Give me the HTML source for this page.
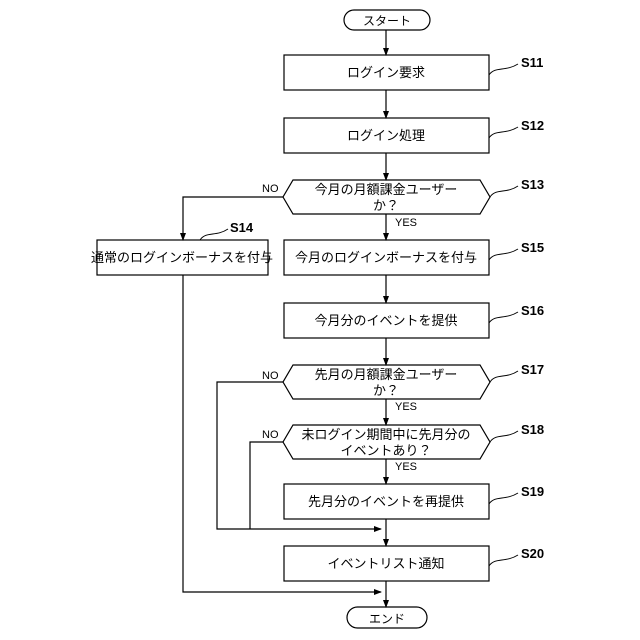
<!DOCTYPE html>
<html><head><meta charset="utf-8"><style>
html,body{margin:0;padding:0;background:#fff}
svg{display:block}
text{font-family:"Liberation Sans","Noto Sans CJK JP",sans-serif;fill:#000}
</style></head><body>
<svg width="640" height="640" viewBox="0 0 640 640" xmlns="http://www.w3.org/2000/svg">
<defs><marker id="a" markerWidth="8" markerHeight="8" refX="7" refY="4" orient="auto" markerUnits="userSpaceOnUse"><path d="M0,1 L8,4 L0,7 Z" fill="#000"/></marker></defs>
<g stroke="#000" stroke-width="1.2" fill="none">
<rect x="344" y="10" width="86" height="20" rx="10"/>
<rect x="347" y="607" width="80" height="21" rx="10.5"/>
<rect x="284" y="55" width="205" height="35"/>
<rect x="284" y="118" width="205" height="35"/>
<path d="M293,180 H480 L490,197 L480,214 H293 L283,197 Z"/>
<rect x="97" y="240" width="171" height="35"/>
<rect x="284" y="240" width="205" height="35"/>
<rect x="284" y="303" width="205" height="35"/>
<path d="M293,365 H480 L490,382 L480,399 H293 L283,382 Z"/>
<path d="M293,425 H480 L490,442 L480,459 H293 L283,442 Z"/>
<rect x="284" y="484" width="205" height="35"/>
<rect x="284" y="546" width="205" height="35"/>
<g marker-end="url(#a)">
<line x1="386" y1="30" x2="386" y2="55"/>
<line x1="386" y1="90" x2="386" y2="118"/>
<line x1="386" y1="153" x2="386" y2="180"/>
<line x1="386" y1="214" x2="386" y2="240"/>
<line x1="386" y1="275" x2="386" y2="303"/>
<line x1="386" y1="338" x2="386" y2="365"/>
<line x1="386" y1="399" x2="386" y2="425"/>
<line x1="386" y1="459" x2="386" y2="484"/>
<line x1="386" y1="519" x2="386" y2="546"/>
<line x1="386" y1="581" x2="386" y2="607"/>
<polyline points="283,197 183,197 183,240"/>
<polyline points="250,529 381,529"/>
<polyline points="183,275 183,592 381,592"/>
</g>
<polyline points="283,382 217,382 217,529 250,529"/>
<polyline points="283,442 250,442 250,529"/>
<g stroke-width="1">
<path d="M489,75 C495,66 505,72 518,64"/>
<path d="M489,138 C495,129 505,135 518,127"/>
<path d="M490,197 C496,188 506,194 518,186"/>
<path d="M200,240 C206,231 216,237 228,229"/>
<path d="M489,260 C495,251 505,257 518,249"/>
<path d="M489,323 C495,314 505,320 518,312"/>
<path d="M490,382 C496,373 506,379 518,371"/>
<path d="M490,442 C496,433 506,439 518,431"/>
<path d="M489,504 C495,495 505,501 518,493"/>
<path d="M489,566 C495,557 505,563 518,555"/>
</g>
</g>
<g font-size="13" text-anchor="middle">
<text x="387" y="25" font-size="12">スタート</text>
<text x="387" y="623" font-size="12">エンド</text>
<text x="386" y="77">ログイン要求</text>
<text x="386" y="140">ログイン処理</text>
<text x="386" y="194">今月の月額課金ユーザー</text>
<text x="386" y="210">か？</text>
<text x="182" y="262">通常のログインボーナスを付与</text>
<text x="386" y="262">今月のログインボーナスを付与</text>
<text x="386" y="325">今月分のイベントを提供</text>
<text x="386" y="379">先月の月額課金ユーザー</text>
<text x="386" y="395">か？</text>
<text x="386" y="439">未ログイン期間中に先月分の</text>
<text x="386" y="455">イベントあり？</text>
<text x="386" y="506">先月分のイベントを再提供</text>
<text x="386" y="568">イベントリスト通知</text>
</g>
<g font-size="11">
<text x="262" y="192">NO</text>
<text x="395" y="226">YES</text>
<text x="262" y="379">NO</text>
<text x="395" y="410">YES</text>
<text x="262" y="438">NO</text>
<text x="395" y="470">YES</text>
</g>
<g font-size="13" font-weight="bold">
<text x="521" y="67">S11</text>
<text x="521" y="130">S12</text>
<text x="521" y="189">S13</text>
<text x="230" y="232">S14</text>
<text x="521" y="252">S15</text>
<text x="521" y="315">S16</text>
<text x="521" y="374">S17</text>
<text x="521" y="434">S18</text>
<text x="521" y="496">S19</text>
<text x="521" y="558">S20</text>
</g>
</svg>
</body></html>
